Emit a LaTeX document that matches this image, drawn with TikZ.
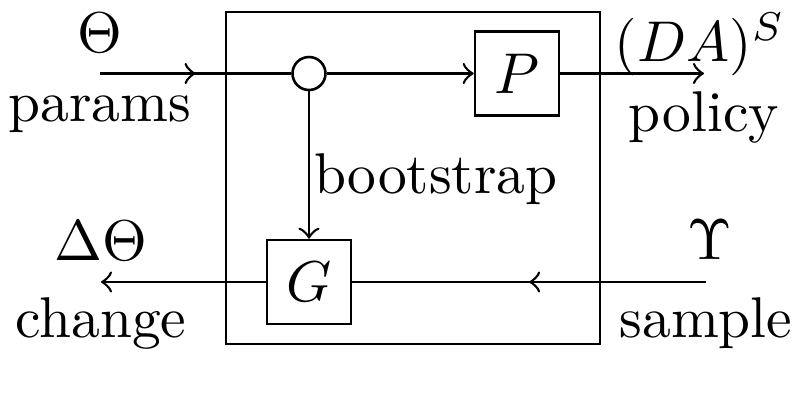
\documentclass[tikz,border=0pt]{standalone}
\usetikzlibrary{decorations.markings}
\def\pxl{0.174pt}
\tikzset{
  blk/.style={draw, minimum size=84*\pxl, inner sep=0pt, font=\normalsize},
  junc/.style={draw, circle, minimum size=33*\pxl, inner sep=0pt},
  sysbox/.style={draw, minimum width=374*\pxl, minimum height=332*\pxl, inner sep=0pt},
  lab/.style={inner sep=0pt, anchor=base, font=\normalsize},
  midarrow/.style={postaction={decorate}, decoration={markings, mark=at position 0.5 with {\arrow{to}}}},
  endarrow/.style={-to}
}
\begin{document}
\begin{tikzpicture}[x=0.174pt, y=-0.174pt, line width=0.45pt]
\useasboundingbox (0,0) rectangle (800,418);
\node[sysbox] (sys) at (413,178) {};
\node[junc] (j) at (309,73.5) {};
\node[blk] (P) at (517,73.5) {$P$};
\node[blk] (G) at (309,282) {$G$};
\coordinate (in) at (100,73.5);
\coordinate (out) at (704,73.5);
\coordinate (sin) at (706,282);
\coordinate (chg) at (101,282);
\draw[midarrow] (in) -- (j);
\draw[endarrow] (j) -- (P);
\draw[endarrow] (P) -- (out);
\draw[endarrow] (j) -- (G);
\draw[midarrow] (sin) -- (G);
\draw[endarrow] (G) -- (chg);
\node[lab] (theta) at (100,52) {$\Theta$};
\node[lab] (params) at (100,121) {params};
\node[lab] (da) at (700,61) {$(DA)^S$};
\node[lab] (policy) at (704,131) {policy};
\node[lab, anchor=base west] (boot) at (313,193) {bootstrap};
\node[lab] (dtheta) at (101,260) {$\Delta\Theta$};
\node[lab] (change) at (101,337) {change};
\node[lab] (ups) at (710,259) {$\Upsilon$};
\node[lab] (sample) at (706,337) {sample};
\end{tikzpicture}
\end{document}
